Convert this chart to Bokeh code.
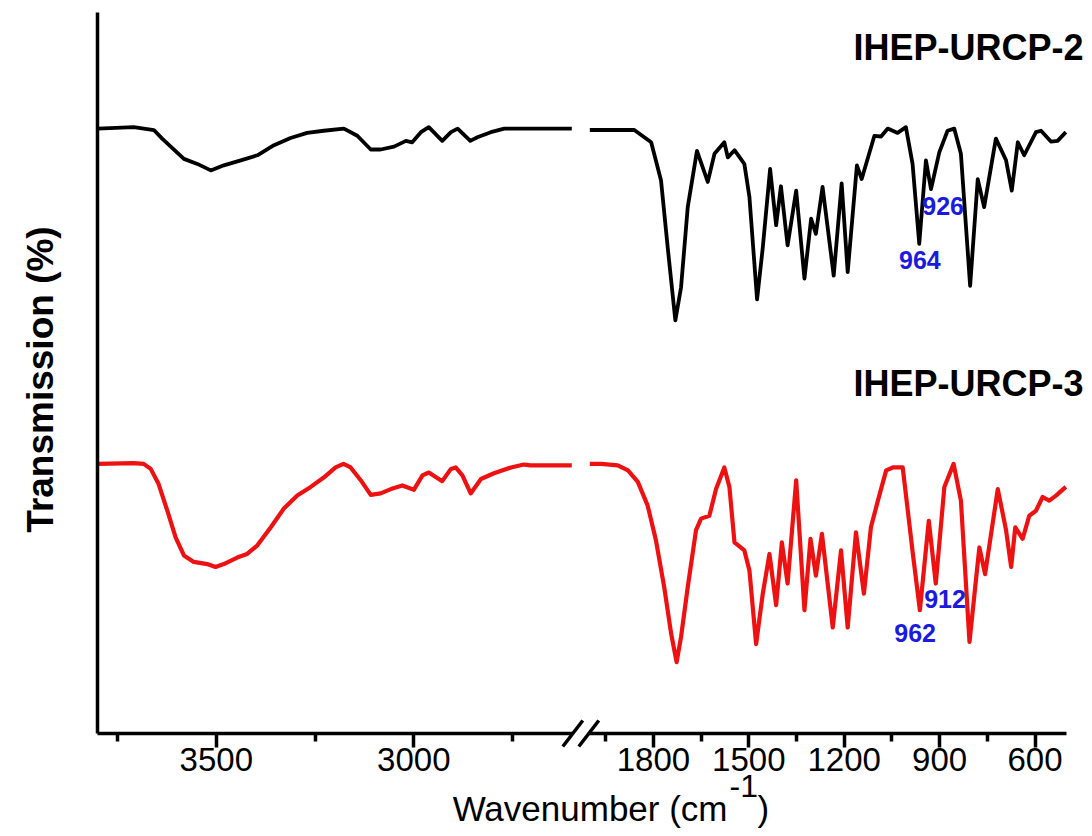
import math
from bokeh.plotting import figure
from bokeh.models import Range1d, FixedTicker, Label, Arrow, LinearAxis
from bokeh.embed import file_html
from bokeh.resources import INLINE

# ---------------- data: wavenumber (cm^-1) and transmission (%) ----------------
URCP2_HI_WN = [3800, 3709, 3658, 3637, 3582, 3548, 3514, 3481, 3438, 3396,
               3354, 3312, 3270, 3228, 3177, 3143, 3109, 3084, 3050, 3020,
               3004, 2982, 2962, 2928, 2906, 2889, 2857, 2839, 2805, 2771, 2600]
URCP2_HI_T = [83.9, 84.1, 83.7, 82.5, 79.7, 79.0, 78.1, 78.8, 79.5, 80.2,
              81.6, 82.6, 83.3, 83.6, 83.9, 82.9, 81.0, 81.0, 81.4, 82.2,
              82.0, 83.4, 84.1, 82.2, 83.4, 83.9, 82.2, 82.7, 83.4, 83.9, 83.9]

URCP2_LO_WN = [2000, 1860, 1807, 1776, 1755, 1731, 1713, 1692, 1663, 1629,
               1608, 1577, 1566, 1545, 1514, 1498, 1474, 1456, 1433, 1414,
               1399, 1378, 1351, 1325, 1304, 1289, 1268, 1233, 1208, 1189,
               1160, 1145, 1105, 1084, 1063, 1032, 1006, 985, 964, 943,
               927, 901, 875, 854, 833, 804, 780, 760, 723, 691,
               673, 654, 634, 597, 581, 550, 529, 503]
URCP2_LO_T = [83.7, 83.7, 82.0, 76.7, 67.4, 57.3, 61.9, 73.0, 80.8, 76.5,
              80.4, 82.0, 79.9, 80.9, 79.0, 74.4, 60.2, 67.4, 78.3, 70.5,
              75.9, 67.7, 75.3, 63.1, 71.4, 69.3, 75.8, 63.5, 76.3, 64.0,
              78.8, 76.9, 82.9, 82.8, 83.9, 83.3, 84.1, 79.0, 67.9, 79.5,
              75.5, 80.6, 83.6, 83.9, 80.4, 62.1, 76.9, 73.0, 82.5, 79.5,
              75.3, 82.0, 80.2, 83.4, 83.6, 82.1, 82.2, 83.4]

URCP3_HI_WN = [3800, 3709, 3684, 3666, 3646, 3624, 3603, 3582, 3557, 3523,
               3502, 3481, 3447, 3422, 3396, 3362, 3329, 3295, 3261, 3228,
               3198, 3178, 3160, 3134, 3109, 3084, 3058, 3029, 3000, 2978,
               2962, 2928, 2906, 2894, 2877, 2856, 2830, 2797, 2754, 2721,
               2704, 2600]
URCP3_HI_T = [37.4, 37.5, 37.4, 36.7, 34.6, 30.9, 27.2, 24.7, 23.8, 23.5,
              23.1, 23.5, 24.4, 24.9, 26.1, 28.6, 31.2, 33.0, 34.2, 35.5,
              36.9, 37.4, 36.9, 35.1, 33.1, 33.3, 33.9, 34.4, 33.8, 35.8,
              36.2, 35.0, 36.7, 36.9, 35.8, 33.3, 35.3, 36.1, 36.9, 37.3,
              37.2, 37.2]

URCP3_LO_WN = [2000, 1964, 1912, 1880, 1849, 1818, 1792, 1766, 1744, 1727,
               1713, 1692, 1666, 1650, 1624, 1603, 1577, 1561, 1545, 1514,
               1498, 1477, 1456, 1435, 1414, 1396, 1378, 1351, 1325, 1306,
               1289, 1270, 1236, 1210, 1189, 1163, 1138, 1116, 1094, 1068,
               1047, 1016, 984, 962, 934, 912, 885, 856, 833, 806,
               775, 757, 717, 691, 675, 662, 639, 618, 597, 576,
               555, 534, 503]
URCP3_LO_T = [37.4, 37.4, 37.2, 36.5, 34.9, 31.6, 26.8, 20.3, 13.8, 9.9,
              13.4, 20.3, 28.2, 29.8, 30.2, 33.9, 36.9, 34.2, 26.5, 25.4,
              22.6, 12.4, 19.4, 24.9, 17.8, 26.5, 20.8, 35.1, 17.1, 27.0,
              21.9, 27.7, 14.7, 25.4, 14.7, 27.9, 19.4, 28.6, 32.3, 36.5,
              36.9, 36.9, 24.9, 17.1, 29.5, 20.8, 34.2, 37.4, 32.3, 12.7,
              25.8, 22.1, 33.9, 28.2, 23.1, 28.6, 27.0, 30.2, 30.9, 32.8,
              32.3, 33.0, 34.2]

SERIES_NAMES = ["IHEP-URCP-2", "IHEP-URCP-3"]
PEAK_LABELS_2 = [("964", 962, 65.7), ("926", 889, 73.2)]
PEAK_LABELS_3 = [("962", 977, 14.0), ("912", 883, 18.6)]

LEFT_TICKS = [3500, 3000]
LEFT_MINOR = [3750, 3250, 2750]
RIGHT_TICKS = [1800, 1500, 1200, 900, 600]
RIGHT_MINOR = [1950, 1650, 1350, 1050, 750]

# ---------------- broken axis geometry (canvas pixels) ----------------
W, H = 1092, 836
AX_X, AX_Y = 97.3, 733          # axis corner on the canvas
FRAME_W, FRAME_H = 969, 721     # plotting area spanned by the axes
LEFT_SPAN = (3800, 2600)
RIGHT_SPAN = (2000, 500)
LEFT_W, GAP_W = 474, 18
RIGHT_W = FRAME_W - LEFT_W - GAP_W

l_per_px = (LEFT_SPAN[0] - LEFT_SPAN[1]) / LEFT_W
r_per_px = (RIGHT_SPAN[0] - RIGHT_SPAN[1]) / RIGHT_W
y_per_px = 100 / FRAME_H

x_main = Range1d(LEFT_SPAN[0] + AX_X * l_per_px, LEFT_SPAN[0] - (W - AX_X) * l_per_px)
x_right = Range1d(RIGHT_SPAN[1] + (AX_X + FRAME_W) * r_per_px,
                  RIGHT_SPAN[1] - (W - AX_X - FRAME_W) * r_per_px)
y_rng = Range1d(-(H - AX_Y) * y_per_px, AX_Y * y_per_px)


def cx(X):
    """canvas x pixel -> main x units"""
    return LEFT_SPAN[0] - (X - AX_X) * l_per_px


def cy(Y):
    """canvas y pixel -> y data units"""
    return (AX_Y - Y) * y_per_px


def r2m(v):
    X = AX_X + FRAME_W - (v - RIGHT_SPAN[1]) / r_per_px
    return round(cx(X), 4)


FONT = "Liberation Sans"
RED = "#ee1111"
BLUE = "#1a1ae0"

p = figure(width=W, height=H, x_range=x_main, y_range=y_rng,
           output_backend="svg", toolbar_location=None, title=None,
           x_axis_location=None, y_axis_location=None,
           min_border=0, min_border_left=0, min_border_right=0,
           min_border_top=0, min_border_bottom=0)
p.extra_x_ranges = {"r": x_right}
p.grid.visible = False
p.outline_line_color = None

# curves
p.line(URCP2_HI_WN, URCP2_HI_T, line_color="black", line_width=3.8, line_join="round")
p.line(URCP2_LO_WN, URCP2_LO_T, line_color="black", line_width=3.8, line_join="round",
       x_range_name="r")
p.line(URCP3_HI_WN, URCP3_HI_T, line_color=RED, line_width=4.2, line_join="round")
p.line(URCP3_LO_WN, URCP3_LO_T, line_color=RED, line_width=4.2, line_join="round",
       x_range_name="r")

# x axis with break
major = LEFT_TICKS + [r2m(v) for v in RIGHT_TICKS]
minor = LEFT_MINOR + [r2m(v) for v in RIGHT_MINOR]
overrides = {t: str(t) for t in LEFT_TICKS}
overrides.update({r2m(v): str(v) for v in RIGHT_TICKS})

xa = LinearAxis(fixed_location=0, bounds=(LEFT_SPAN[0], cx(AX_X + FRAME_W)),
                ticker=FixedTicker(ticks=major, minor_ticks=minor))
xa.major_label_overrides = overrides
xa.axis_line_width = 3.5
xa.major_tick_line_width = 3.5
xa.minor_tick_line_width = 3.5
xa.major_tick_out = 14
xa.major_tick_in = 0
xa.minor_tick_out = 8
xa.minor_tick_in = 0
xa.major_label_text_font = FONT
xa.major_label_text_font_size = "33px"
xa.major_label_text_color = "black"
xa.major_label_standoff = 0
p.add_layout(xa, "below")

ya = LinearAxis(fixed_location=LEFT_SPAN[0], bounds=(0, 100), ticker=FixedTicker(ticks=[]))
ya.axis_line_width = 3.5
ya.major_tick_out = 0
ya.major_tick_in = 0
ya.minor_tick_out = 0
ya.minor_tick_in = 0
p.add_layout(ya, "left")

# y axis title
p.add_layout(Label(x=cx(40), y=cy(379), text="Transmission (%)", angle=math.pi / 2,
                   text_align="center", text_baseline="middle",
                   text_font=FONT, text_font_style="bold", text_font_size="37px",
                   text_color="black"))

# axis break marks
b1, b2 = AX_X + LEFT_W + 1, AX_X + LEFT_W + GAP_W - 1
p.add_layout(Arrow(end=None, x_start=cx(b1), y_start=0, x_end=cx(b2), y_end=0,
                   line_color="white", line_width=6))
for bx in (b1, b2):
    p.add_layout(Arrow(end=None, x_start=cx(bx - 10), y_start=cy(AX_Y + 13),
                       x_end=cx(bx + 10), y_end=cy(AX_Y - 13),
                       line_color="black", line_width=3.5))

# x axis title (with superscript)
XT_RIGHT = 727
p.add_layout(Label(x=cx(XT_RIGHT), y=cy(808), text="Wavenumber (cm",
                   text_align="right", text_baseline="middle",
                   text_font=FONT, text_font_size="35px", text_color="black"))
p.add_layout(Label(x=cx(XT_RIGHT + 2), y=cy(785), text="-1",
                   text_align="left", text_baseline="middle",
                   text_font=FONT, text_font_size="32px", text_color="black"))
p.add_layout(Label(x=cx(XT_RIGHT + 30), y=cy(808), text=")",
                   text_align="left", text_baseline="middle",
                   text_font=FONT, text_font_size="35px", text_color="black"))

# series names
for name, Ym in zip(SERIES_NAMES, [46.5, 382.5]):
    p.add_layout(Label(x=cx(1083), y=cy(Ym), text=name,
                       text_align="right", text_baseline="middle",
                       text_font=FONT, text_font_style="bold", text_font_size="36px",
                       text_color="black"))

# peak annotations
for txt, xv, yv in PEAK_LABELS_2 + PEAK_LABELS_3:
    p.add_layout(Label(x=xv, y=yv, x_range_name="r", text=txt,
                       text_align="center", text_baseline="middle",
                       text_font=FONT, text_font_style="bold", text_font_size="25px",
                       text_color=BLUE))

open("out.html", "w").write(file_html(p, INLINE))
